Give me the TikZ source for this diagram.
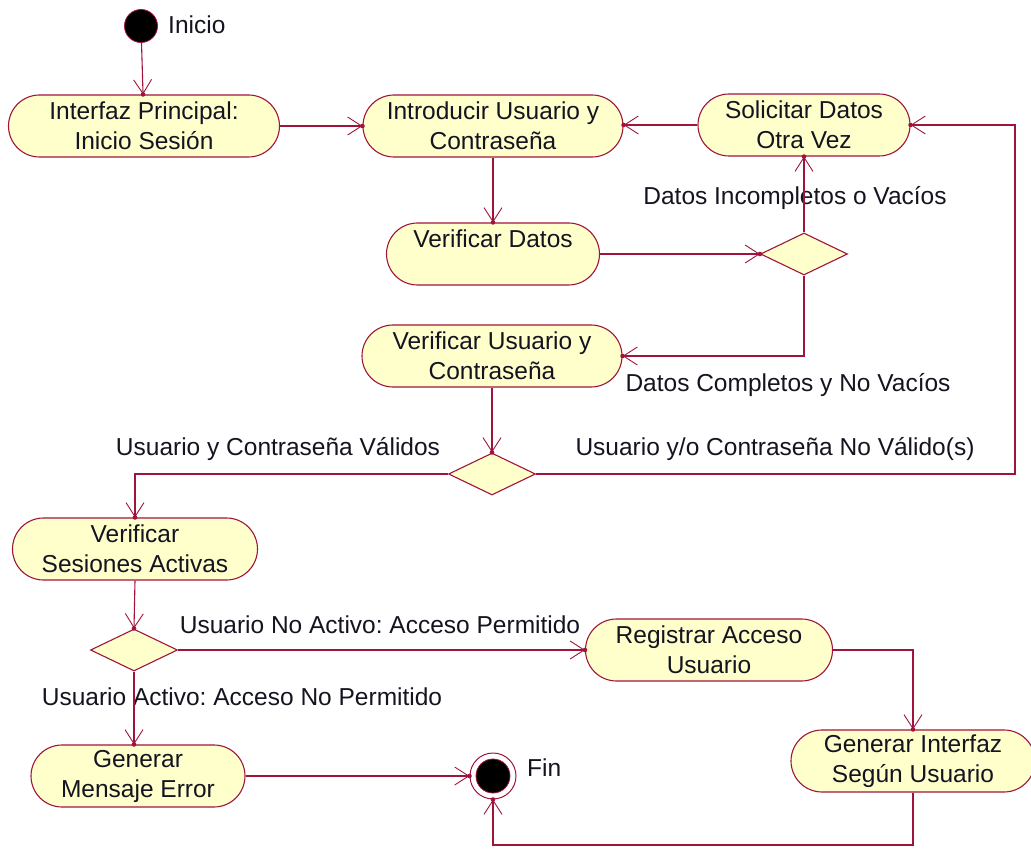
\documentclass[tikz,border=0pt]{standalone}
\usepackage{fontspec}
\setmainfont{Liberation Sans}
\usetikzlibrary{arrows.meta,shapes.misc,shapes.geometric,decorations.markings}
\definecolor{rose}{RGB}{160,20,60}
\definecolor{actfill}{RGB}{255,255,204}
\definecolor{ink}{RGB}{20,20,32}
\frenchspacing
\begin{document}
\begin{tikzpicture}[x=1pt,y=-1pt,
  every node/.style={font=\fontsize{24.5}{30}\selectfont, text=ink},
  activity/.style={rounded rectangle, draw=rose, fill=actfill, line width=1.1pt,
    minimum height=62pt, inner sep=0pt, align=center},
  decision/.style={diamond, draw=rose, fill=actfill, line width=1.1pt,
    minimum width=87pt, minimum height=42pt, inner sep=0pt},
  flow/.style={draw=rose, line width=1.1pt,
    -{Straight Barb[length=14pt,width=18pt,line width=0.9pt]},
    postaction={decorate, decoration={markings,
      mark=at position 1 with {\fill[rose] (0,0) circle (2.3pt);}}}},
  lbl/.style={inner sep=0pt}
]
\useasboundingbox (0,0) rectangle (1031,850);

% initial and final states
\node[circle, fill=black, draw=rose, line width=0.8pt, minimum size=33pt, inner sep=0pt] (start) at (141,26) {};
\node[lbl, anchor=west] (inicio) at (168,25) {Inicio};
\node[circle, draw=rose, line width=1pt, minimum size=46pt, inner sep=0pt, fill=white] (end) at (493,776) {};
\node[circle, fill=black, draw=rose, line width=0.8pt, minimum size=34pt, inner sep=0pt] (endcore) at (end.center) {};
\node[lbl, anchor=west] (fin) at (527,768) {Fin};

% activities
\node[activity, minimum width=271pt] (ip) at (144,126) {Interfaz Principal:\\Inicio Sesión};
\node[activity, minimum width=260pt] (intro) at (493,126) {Introducir Usuario y\\Contraseña};
\node[activity, minimum width=212pt] (sol) at (804,125) {Solicitar Datos\\Otra Vez};
\node[activity, minimum width=213pt] (vd) at (493,254) {Verificar Datos\\\mbox{}};
\node[activity, minimum width=260pt] (vu) at (492,356) {Verificar Usuario y\\Contraseña};
\node[activity, minimum width=245pt] (vs) at (135,549) {Verificar\\Sesiones Activas};
\node[activity, minimum width=247pt] (ra) at (709,650) {Registrar Acceso\\Usuario};
\node[activity, minimum width=244pt] (gi) at (913,761) {Generar Interfaz\\Según Usuario};
\node[activity, minimum width=214pt] (gm) at (138,776) {Generar\\Mensaje Error};

% decisions
\node[decision] (d1) at (804,254) {};
\node[decision] (d2) at (492,474) {};
\node[decision] (d3) at (134,650) {};

% guard labels
\node[lbl] (g1) at (795,198) {Datos Incompletos o Vacíos};
\node[lbl] (g2) at (788,385) {Datos Completos y No Vacíos};
\node[lbl] (g3) at (775,449) {Usuario y/o Contraseña No Válido(s)};
\node[lbl] (g4) at (278,449) {Usuario y Contraseña Válidos};
\node[lbl] (g5) at (380,625) {Usuario No Activo: Acceso Permitido};
\node[lbl] (g6) at (242,697) {Usuario Activo: Acceso No Permitido};

% routing helpers
\coordinate (loopx) at (1015,0);
\coordinate (boty) at (0,845);

% transitions
\draw[flow] (start) -- (ip);
\draw[flow] (ip.east) -- (intro.west);
\draw[flow] (intro.south) -- (vd.north);
\draw[flow] (vd.east) -- (d1.west);
\draw[flow] (d1.north) -- (sol.south);
\draw[flow] (d1.south) |- (vu.east);
\draw[flow] (sol.west) -- (sol.west -| intro.east);
\draw[flow] (vu.south) -- (d2.north);
\draw[flow] (d2.east) -- (d2.east -| loopx) |- (sol.east);
\draw[flow] (d2.west) -| (vs.north);
\draw[flow] (vs.south) -- (d3.north);
\draw[flow] (d3.east) -- (ra.west);
\draw[flow] (d3.south) -- (d3.south |- gm.north);
\draw[flow] (ra.east) -| (gi.north);
\draw[flow] (gi.south) -- (gi.south |- boty) -| (end.south);
\draw[flow] (gm.east) -- (end.west);
\end{tikzpicture}
\end{document}
